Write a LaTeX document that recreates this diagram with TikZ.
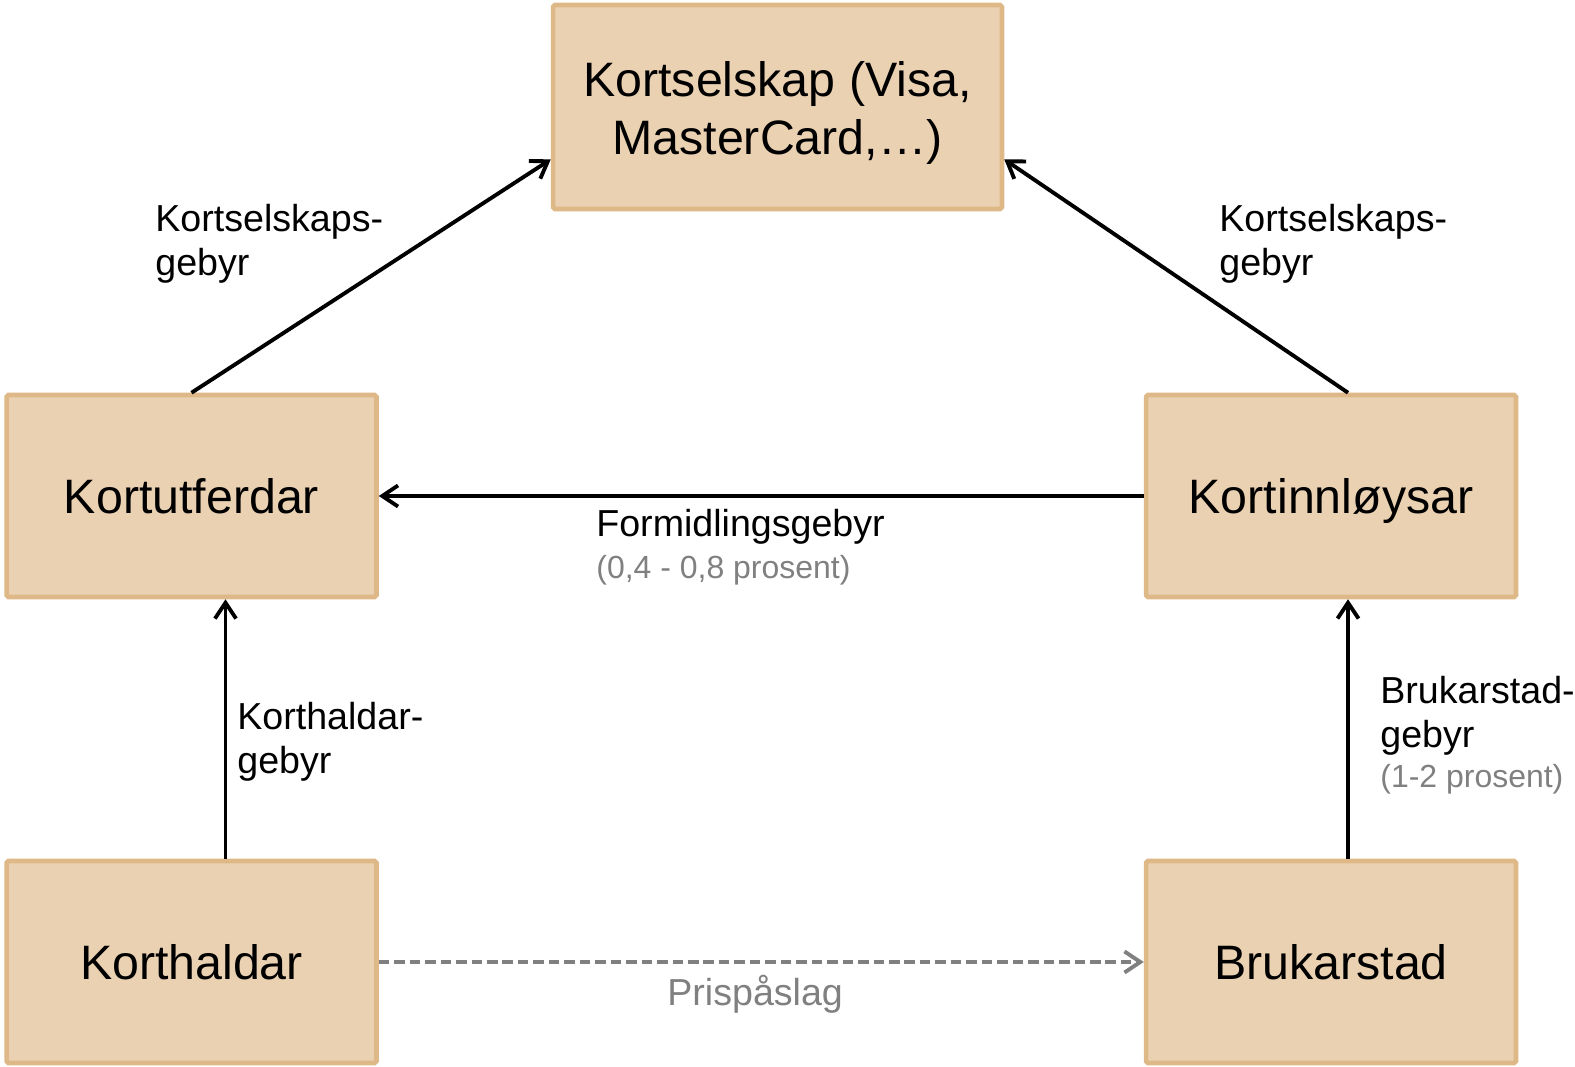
\documentclass[tikz,border=0pt]{standalone}
\usepackage{fontspec}
\setmainfont{Liberation Sans}
\usepackage{tikz}
\usetikzlibrary{positioning, arrows, arrows.meta}
\definecolor{boxfill}{HTML}{EAD1B2}
\definecolor{boxline}{HTML}{DFB887}
\definecolor{notegray}{HTML}{808080}

\begin{document}
\begin{tikzpicture}[x=0.02cm, y=-0.02cm,
	actor/.style={rectangle, draw=boxline, fill=boxfill, line width=2.6pt, rounded corners=1pt, minimum width=7.4cm, minimum height=4.04cm, align=center, font=\fontsize{27.5}{33}\selectfont},
	fee/.style={anchor=north west, inner sep=0pt, align=left, font=\fontsize{21.4}{25}\selectfont},
	pay/.style={line width=2.2pt, -{Straight Barb[length=9pt, width=12pt]}}]
				      \useasboundingbox (0,0) rectangle (1575,1067);

				      \node[actor, minimum width=8.98cm, minimum height=4.08cm] (selskap) at (777.5,107) {\rule{0pt}{27pt}Kortselskap (Visa,\\MasterCard,…)};
				      \node[actor] (utf) at (191.5,496) {Kortutferdar};
				      \node[actor, text depth=0pt] (innl) at (1331,496) {Kortinnløysar};
				      \node[actor] (hald) at (191.5,962) {Korthaldar};
				      \node[actor] (bruk) at (1331,962) {Brukarstad};

				      \node[fee] (gebyrA) at (155,204) {Kortselskaps-\\gebyr};
				      \node[fee] (gebyrB) at (1219,204) {Kortselskaps-\\gebyr};
				      \node[fee] (formidl) at (596,509) {Formidlingsgebyr\\[-1.2pt]{\color{notegray}\fontsize{18.2}{22}\selectfont (0,4 - 0,8 prosent)}};
				      \node[fee] (haldgebyr) at (237,702) {Korthaldar-\\gebyr};
				      \node[fee] (brukgebyr) at (1380,676) {Brukarstad-\\gebyr\\[-2pt]{\color{notegray}\fontsize{18.2}{22}\selectfont (1-2 prosent)}};
				      \node[fee, text=notegray] (prispaa) at (667,975) {Prispåslag};

				      \draw[pay] (utf.north) -- (selskap.193);
				      \draw[pay] ([xshift=0.34cm]innl.north) -- (selskap.-13);
				      \draw[pay] (innl) -- (utf);
				      \draw[pay] ([xshift=0.68cm]hald.north) -- ([xshift=0.68cm]utf.south);
				      \draw[pay] ([xshift=0.34cm]bruk.north) -- ([xshift=0.34cm]innl.south);
				      \draw[pay, draw=notegray, dash pattern=on 6pt off 2.8pt] (hald) -- (bruk);
			      \end{tikzpicture}
\end{document}
